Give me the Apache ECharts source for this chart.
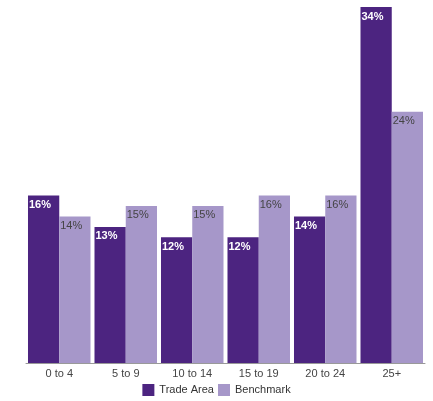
<!DOCTYPE html>
<html><head><meta charset="utf-8">
<script src="https://cdn.jsdelivr.net/npm/echarts@6/dist/echarts.min.js"></script>
<style>html,body{margin:0;padding:0;background:#fff}#c{width:433px;height:401px}</style>
</head><body><div id="c"></div>
<script>
const categories = ['0 to 4','5 to 9','10 to 14','15 to 19','20 to 24','25+'];
const tradeArea = [16,13,12,12,14,34];
const benchmark = [14,15,15,16,16,24];
const chart = echarts.init(document.getElementById('c'));
chart.setOption({
  animation:false,
  grid:{left:26,right:8,top:7,bottom:38},
  legend:{bottom:0,left:'center',icon:'rect',itemWidth:12,itemHeight:12,itemGap:4,
    textStyle:{fontFamily:'Liberation Sans',fontSize:11,color:'#333'},
    data:['Trade Area','Benchmark']},
  xAxis:{type:'category',data:categories,
    axisLine:{lineStyle:{color:'#999'}},axisTick:{show:false},
    axisLabel:{fontFamily:'Liberation Sans',fontSize:11,color:'#444',margin:5}},
  yAxis:{type:'value',min:0,max:34,show:false,splitLine:{show:false}},
  series:[
    {name:'Trade Area',type:'bar',data:tradeArea,barGap:'0%',barCategoryGap:'6%',
     itemStyle:{color:'#4c2480'},
     label:{show:true,position:'insideTopLeft',offset:[-4,-1],formatter:'{c}%',color:'#fff',fontFamily:'Liberation Sans',fontWeight:'bold',fontSize:11}},
    {name:'Benchmark',type:'bar',data:benchmark,
     itemStyle:{color:'#a697c9'},
     label:{show:true,position:'insideTopLeft',offset:[-4,-1],formatter:'{c}%',color:'#444',fontFamily:'Liberation Sans',fontSize:11}}
  ]
});
</script></body></html>
